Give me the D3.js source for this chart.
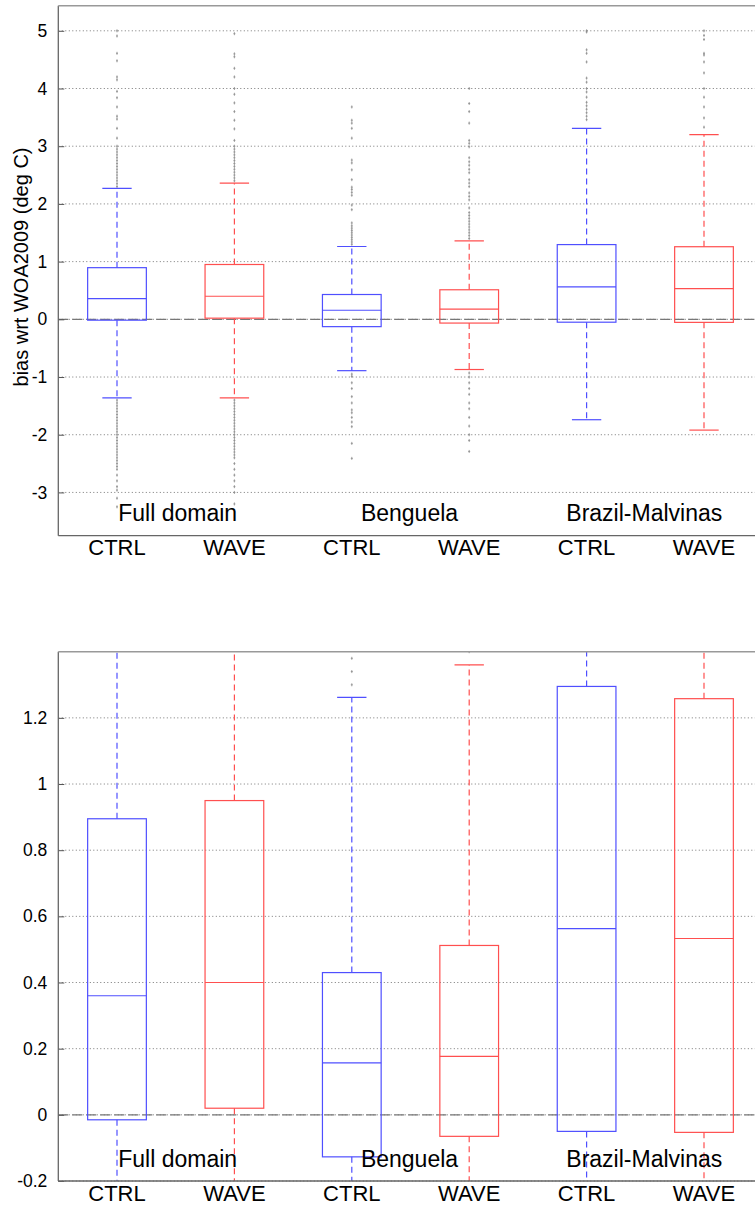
<!DOCTYPE html>
<html><head><meta charset="utf-8">
<script src="https://cdn.jsdelivr.net/npm/d3@7"></script>
<style>
body{margin:0;background:#fff;}
svg{display:block;font-family:"Liberation Sans",Arial,Helvetica,sans-serif;}
</style></head>
<body>
<svg id="chart" width="755" height="1206"></svg>
<script>
// ---- data ----
const runs = ["CTRL","WAVE","CTRL","WAVE","CTRL","WAVE"];
const regions = ["Full domain","Benguela","Brazil-Malvinas"];
const runColors = ["blue","red","blue","red","blue","red"];
const whiskerHigh = [2.27, 2.36, 1.262, 1.36, 3.31, 3.20];
const q3 = [0.895, 0.95, 0.43, 0.512, 1.295, 1.258];
const medians = [0.36, 0.40, 0.157, 0.177, 0.563, 0.533];
const q1 = [-0.015, 0.02, -0.127, -0.065, -0.05, -0.053];
const whiskerLow = [-1.36, -1.36, -0.89, -0.87, -1.74, -1.92];
const outliers = [
  [2.3,2.35,2.4,2.45,2.5,2.55,2.6,2.65,2.7,2.75,2.8,2.85,2.9,2.95,3.0,3.14,3.31,3.47,3.52,3.68,3.84,3.95,4.15,4.2,4.48,4.61,4.91,5.0,
   -1.4,-1.45,-1.5,-1.55,-1.6,-1.65,-1.7,-1.75,-1.8,-1.85,-1.9,-1.95,-2.0,-2.05,-2.1,-2.15,-2.2,-2.25,-2.3,-2.35,-2.4,-2.45,-2.5,-2.55,-2.6,-2.7,-2.8,-2.9,-2.96,-3.1,-3.25],
  [2.4,2.45,2.5,2.55,2.6,2.65,2.7,2.75,2.8,2.85,2.9,2.95,3.0,3.1,3.3,3.45,3.6,3.75,3.9,4.0,4.2,4.35,4.55,4.6,4.95,
   -1.4,-1.45,-1.5,-1.55,-1.6,-1.65,-1.7,-1.75,-1.8,-1.85,-1.9,-1.95,-2.0,-2.05,-2.1,-2.15,-2.2,-2.25,-2.3,-2.35,-2.4,-2.5,-2.6,-2.7,-2.8,-2.9,-3.0,-3.2],
  [1.3,1.34,1.38,1.42,1.46,1.5,1.54,1.58,1.62,1.67,1.9,1.98,2.15,2.2,2.25,2.29,2.42,2.59,2.71,2.76,3.14,3.31,3.4,3.45,3.68,
   -0.95,-0.99,-1.1,-1.2,-1.34,-1.45,-1.57,-1.62,-1.7,-1.78,-1.86,-2.15,-2.41],
  [1.4,1.45,1.5,1.55,1.6,1.65,1.7,1.75,1.8,1.85,1.93,2.07,2.13,2.19,2.3,2.36,2.42,2.54,2.6,2.67,2.73,2.8,2.99,3.05,3.1,3.4,3.6,3.74,4.0,
   -0.93,-1.0,-1.1,-1.2,-1.3,-1.45,-1.55,-1.7,-1.85,-2.0,-2.1,-2.29],
  [3.46,3.52,3.58,3.64,3.7,3.76,3.85,3.94,4.0,4.11,4.18,4.46,4.61,4.67,4.98,5.0],
  [3.33,3.49,3.68,3.85,4.0,4.27,4.46,4.58,4.61,4.85,4.92,5.0]
];
const topTicks = [-3,-2,-1,0,1,2,3,4,5];
const bottomTicks = [-0.2,0,0.2,0.4,0.6,0.8,1,1.2];
const yLabel = "bias wrt WOA2009 (deg C)";

const colorMap = {blue:"#4f4fff", red:"#ff4f4f"};
const svg = d3.select("#chart");

const x = d3.scaleLinear().domain([0.5, 6.5]).range([58.3, 762.7]);

function panel(cfg){
  const g = svg.append("g");
  const y = d3.scaleLinear().domain(cfg.domain).range([cfg.bottom, cfg.top]);
  const clipId = "clip" + cfg.id;
  svg.append("defs").append("clipPath").attr("id", clipId)
    .append("rect").attr("x", x(0.5)).attr("y", cfg.top).attr("width", x(6.5)-x(0.5)).attr("height", cfg.bottom-cfg.top);

  // grid
  g.append("g").selectAll("line").data(cfg.ticks).join("line")
    .attr("x1", x(0.5)).attr("x2", 755).attr("y1", d=>y(d)).attr("y2", d=>y(d))
    .attr("stroke", "#777").attr("stroke-width", 1).attr("stroke-dasharray", "1,2.5");

  const plot = g.append("g").attr("clip-path", `url(#${clipId})`);

  // zero line
  plot.append("line").attr("x1", x(0.5)).attr("x2", 755).attr("y1", y(0)).attr("y2", y(0))
    .attr("stroke", "#777").attr("stroke-width", 1.2).attr("stroke-dasharray", "10,4");

  // outliers
  runs.forEach((r,i)=>{
    const xc = x(i+1);
    plot.append("g").selectAll("path").data(outliers[i]).join("path")
      .attr("d", d=>`M${xc-1},${y(d)}h2M${xc},${y(d)-1.5}v3`)
      .attr("stroke", "#8a8a8a").attr("stroke-width", 0.8).attr("fill", "none");
  });

  // boxes
  runs.forEach((r,i)=>{
    const c = colorMap[runColors[i]];
    const xc = x(i+1), hw = x(1.25)-x(1), cw = x(1.125)-x(1);
    const bg = plot.append("g").attr("stroke", c).attr("fill", "none").attr("stroke-width", 1.2);
    bg.append("line").attr("x1", xc).attr("x2", xc).attr("y1", y(q3[i])).attr("y2", y(whiskerHigh[i])).attr("stroke-dasharray", "6,4");
    bg.append("line").attr("x1", xc).attr("x2", xc).attr("y1", y(q1[i])).attr("y2", y(whiskerLow[i])).attr("stroke-dasharray", "6,4");
    bg.append("line").attr("x1", xc-cw).attr("x2", xc+cw).attr("y1", y(whiskerHigh[i])).attr("y2", y(whiskerHigh[i]));
    bg.append("line").attr("x1", xc-cw).attr("x2", xc+cw).attr("y1", y(whiskerLow[i])).attr("y2", y(whiskerLow[i]));
    bg.append("rect").attr("x", xc-hw).attr("width", 2*hw).attr("y", y(q3[i])).attr("height", y(q1[i])-y(q3[i]));
    bg.append("line").attr("x1", xc-hw).attr("x2", xc+hw).attr("y1", y(medians[i])).attr("y2", y(medians[i]));
  });

  // axes frame
  const axis = d3.axisLeft(y).tickValues(cfg.ticks).tickSize(-6).tickPadding(11)
    .tickFormat(d=>String(d));
  const ag = g.append("g").attr("transform", `translate(${x(0.5)},0)`).call(axis);
  ag.select(".domain").remove();
  ag.selectAll(".tick line").attr("stroke", "#555");
  ag.selectAll(".tick text").attr("font-size", 17.5).attr("fill", "#000").attr("font-family", "Liberation Sans, Arial, sans-serif");

  g.append("line").attr("x1", x(0.5)).attr("x2", x(0.5)).attr("y1", cfg.top).attr("y2", cfg.bottom).attr("stroke", "#666").attr("stroke-width", 1.3);
  g.append("line").attr("x1", x(0.5)).attr("x2", 755).attr("y1", cfg.top).attr("y2", cfg.top).attr("stroke", "#999").attr("stroke-width", 1.5);
  g.append("line").attr("x1", x(0.5)).attr("x2", 755).attr("y1", cfg.bottom).attr("y2", cfg.bottom).attr("stroke", "#666").attr("stroke-width", 1.3);

  // run labels
  g.append("g").selectAll("text").data(runs).join("text")
    .attr("x", (d,i)=>x(i+1)).attr("y", cfg.bottom+19.5).attr("text-anchor", "middle")
    .attr("font-size", 22).attr("fill", "#000").text(d=>d);
  // region labels
  g.append("g").selectAll("text").data(regions).join("text")
    .attr("x", (d,i)=>x(2*i+1.5)+(i===0?2:-1)).attr("y", cfg.bottom-14.5).attr("text-anchor", "middle")
    .attr("font-size", 23).attr("fill", "#000").text(d=>d);
}

panel({id:1, domain:[-3.75, 5.435], top:5.7, bottom:535.7, ticks:topTicks});
panel({id:2, domain:[-0.2, 1.4], top:651.7, bottom:1181, ticks:bottomTicks});

svg.append("text").attr("transform", "translate(28,267) rotate(-90)")
  .attr("text-anchor", "middle").attr("font-size", 20).attr("fill", "#000").text(yLabel);
</script>
</body></html>
